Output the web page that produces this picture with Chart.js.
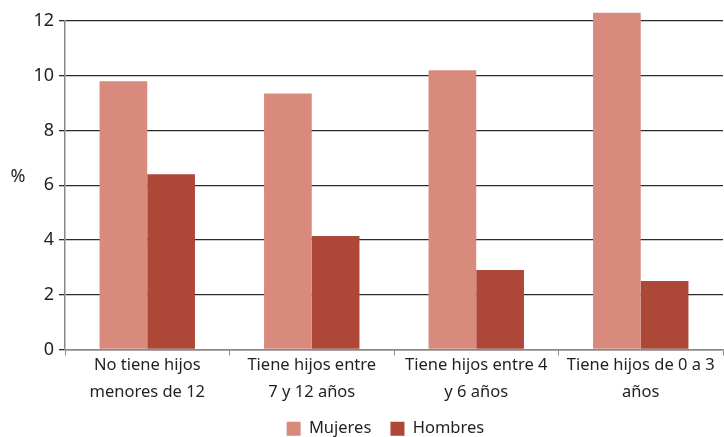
<!DOCTYPE html>
<html>
<head>
<meta charset="utf-8">
<script src="https://cdn.jsdelivr.net/npm/chart.js@4"></script>
<style>
  html, body { margin: 0; padding: 0; background: #fff; }
  #wrap { width: 724px; height: 437px; }
</style>
</head>
<body>
<div id="wrap"><canvas id="chart"></canvas></div>
<script>
var categories = [
    ['No tiene hijos', 'menores de 12'],
    ['Tiene hijos entre', '7 y 12 años'],
    ['Tiene hijos entre 4', 'y 6 años'],
    ['Tiene hijos de 0 a 3', 'años']
];
var mujeres = [9.8, 9.35, 10.2, 12.3];
var hombres = [6.4, 4.15, 2.9, 2.5];
var yTicks = [0, 2, 4, 6, 8, 10, 12];

var textColor = '#231f20';
var fontFamily = '"Noto Sans", "Open Sans", sans-serif';

// "%" sits horizontally to the left of the value axis
var percentLabel = {
    id: 'percentLabel',
    afterDraw: function (chart) {
        var ctx = chart.ctx;
        ctx.save();
        ctx.fillStyle = textColor;
        ctx.font = '18px ' + fontFamily;
        ctx.textAlign = 'center';
        ctx.textBaseline = 'middle';
        ctx.fillText('%', 18, chart.scales.y.getPixelForValue(6.3));
        ctx.restore();
    }
};

new Chart(document.getElementById('chart'), {
    type: 'bar',
    data: {
        labels: categories,
        datasets: [
            {
                label: 'Mujeres',
                data: mujeres,
                backgroundColor: '#d88a7c',
                categoryPercentage: 0.58,
                barPercentage: 1.0,
                clip: false
            },
            {
                label: 'Hombres',
                data: hombres,
                backgroundColor: '#ad4838',
                categoryPercentage: 0.58,
                barPercentage: 1.0,
                clip: false
            }
        ]
    },
    options: {
        responsive: true,
        maintainAspectRatio: false,
        animation: false,
        layout: { padding: { top: 21, right: 1, left: 0, bottom: -10 } },
        plugins: {
            tooltip: { enabled: false },
            legend: {
                position: 'bottom',
                fullSize: false,
                labels: {
                    boxWidth: 14,
                    boxHeight: 14,
                    padding: 2,
                    color: textColor,
                    font: { family: fontFamily, size: 16.5 },
                    // pad the entries so the two items sit further apart
                    generateLabels: function (chart) {
                        var items = Chart.defaults.plugins.legend.labels.generateLabels(chart);
                        items[0].text = items[0].text + '    ';
                        items[1].text = items[1].text + '    ';
                        return items;
                    }
                }
            }
        },
        scales: {
            x: {
                grid: {
                    offset: true,
                    drawOnChartArea: false,
                    drawTicks: true,
                    tickLength: 6,
                    color: '#888'
                },
                border: { color: '#888', width: 1.5 },
                ticks: {
                    color: textColor,
                    padding: -4,
                    maxRotation: 0,
                    font: { family: fontFamily, size: 16.5, lineHeight: 1.65 }
                },
                afterFit: function (scale) { scale.height = 69; }
            },
            y: {
                min: 0,
                max: 12,
                afterBuildTicks: function (scale) {
                    scale.ticks = yTicks.map(function (v) { return { value: v }; });
                },
                grid: {
                    color: '#2b2b2b',
                    lineWidth: 1.3,
                    drawTicks: true,
                    tickLength: 6
                },
                border: { color: '#888', width: 1.5 },
                ticks: {
                    color: textColor,
                    padding: 5,
                    font: { family: fontFamily, size: 18 }
                },
                afterFit: function (scale) { scale.width = 65; }
            }
        }
    },
    plugins: [percentLabel]
});
</script>
</body>
</html>
